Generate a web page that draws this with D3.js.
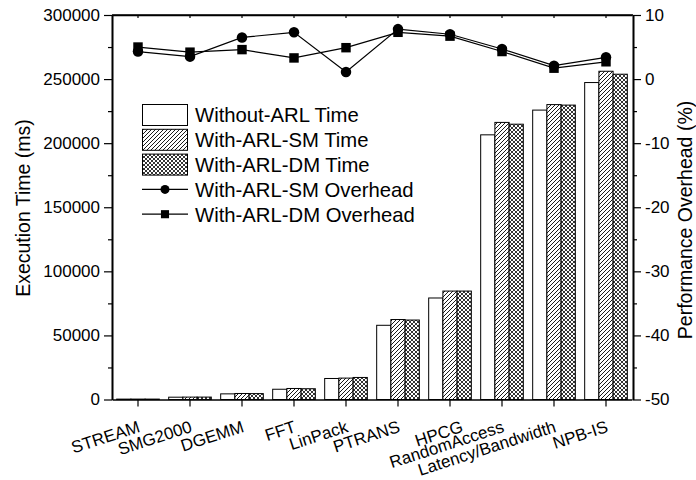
<!DOCTYPE html>
<html>
<head>
<meta charset="utf-8">
<script src="https://cdn.jsdelivr.net/npm/d3@7"></script>
<style>
  body { margin: 0; background: #fff; }
  text { font-family: "Liberation Sans", Arial, sans-serif; fill: #000; }
</style>
</head>
<body>
<div id="chart"></div>
<script>
// benchmark names
var categories = ["STREAM", "SMG2000", "DGEMM", "FFT", "LinPack", "PTRANS", "HPCG",
    "RandomAccess", "Latency/Bandwidth", "NPB-IS"];

// execution time (ms)
var withoutArl = [300, 1800, 4400, 8000, 16400, 57900, 79200, 206500, 225800, 247300];
var withArlSM  = [320, 1870, 4690, 8600, 16700, 62400, 84600, 216200, 230100, 256100];
var withArlDM  = [320, 1880, 4600, 8400, 17200, 62000, 84600, 214800, 229700, 253800];

// performance overhead (%)
var overheadSM = [4.3, 3.5, 6.5, 7.3, 1.1, 7.8, 7.0, 4.7, 2.1, 3.4];
var overheadDM = [5.0, 4.2, 4.6, 3.3, 4.9, 7.3, 6.7, 4.3, 1.7, 2.7];

var leftTicks = [0, 50000, 100000, 150000, 200000, 250000, 300000];
var rightTicks = [-50, -40, -30, -20, -10, 0, 10];

var barSeries = [
    { name: "Without-ARL Time", values: withoutArl, fill: "#fff" },
    { name: "With-ARL-SM Time", values: withArlSM, fill: "url(#hatch)" },
    { name: "With-ARL-DM Time", values: withArlDM, fill: "url(#cross)" }
];
var lineSeries = [
    { name: "With-ARL-SM Overhead", values: overheadSM, marker: "circle" },
    { name: "With-ARL-DM Overhead", values: overheadDM, marker: "square" }
];

function drawChart() {
    var W = 696, H = 480;
    var plotLeft = 112, plotRight = 633, plotTop = 15, plotBottom = 399.5;
    var plain = function(d) { return String(d); };

    var svg = d3.select("#chart")
        .append("svg")
        .attr("width", W)
        .attr("height", H);

    var defs = svg.append("defs");
    var hatch = defs.append("pattern")
        .attr("id", "hatch")
        .attr("patternUnits", "userSpaceOnUse")
        .attr("width", 4).attr("height", 4);
    hatch.append("rect").attr("width", 4).attr("height", 4).attr("fill", "#fff");
    hatch.append("path")
        .attr("d", "M0,4L4,0M-1,1L1,-1M3,5L5,3")
        .attr("stroke", "#000").attr("stroke-width", 0.9);

    var cross = defs.append("pattern")
        .attr("id", "cross")
        .attr("patternUnits", "userSpaceOnUse")
        .attr("width", 4).attr("height", 4);
    cross.append("rect").attr("width", 4).attr("height", 4).attr("fill", "#fff");
    cross.append("path")
        .attr("d", "M0,4L4,0M-1,1L1,-1M3,5L5,3M0,0L4,4M-1,3L1,5M3,-1L5,1")
        .attr("stroke", "#000").attr("stroke-width", 0.8);

    var x = d3.scaleBand()
        .domain(categories)
        .range([plotLeft, plotRight - 1])
        .paddingInner(0.18)
        .paddingOuter(0.09);

    var xs = d3.scaleBand()
        .domain(d3.range(barSeries.length))
        .range([0, x.bandwidth()]);

    var y = d3.scaleLinear().domain([0, 300000]).range([plotBottom, plotTop]);
    var y2 = d3.scaleLinear().domain([-50, 10]).range([plotBottom, plotTop]);

    // bars
    barSeries.forEach(function(s, si) {
        svg.append("g").selectAll("rect")
            .data(s.values)
            .enter()
            .append("rect")
            .attr("x", function(d, i) { return x(categories[i]) + xs(si); })
            .attr("y", function(d) { return y(d); })
            .attr("width", xs.bandwidth())
            .attr("height", function(d) { return plotBottom - y(d); })
            .attr("fill", s.fill)
            .attr("stroke", "#000")
            .attr("stroke-width", 1);
    });

    // axes
    svg.append("g")
        .attr("transform", "translate(" + plotLeft + ",0)")
        .call(d3.axisLeft(y).tickValues(leftTicks).tickFormat(plain).tickSize(8).tickPadding(4).tickSizeOuter(0));
    svg.append("g")
        .attr("transform", "translate(" + plotLeft + ",0)")
        .call(d3.axisLeft(y).tickValues(d3.range(25000, 300000, 50000)).tickSize(4).tickFormat("").tickSizeOuter(0));

    svg.append("g")
        .attr("transform", "translate(" + plotRight + ",0)")
        .call(d3.axisRight(y2).tickValues(rightTicks).tickFormat(plain).tickSize(8).tickPadding(4).tickSizeOuter(0));
    svg.append("g")
        .attr("transform", "translate(" + plotRight + ",0)")
        .call(d3.axisRight(y2).tickValues([-45, -35, -25, -15, -5, 5]).tickSize(4).tickFormat("").tickSizeOuter(0));

    var xAxis = svg.append("g")
        .attr("transform", "translate(0," + plotBottom + ")")
        .call(d3.axisBottom(x).tickSize(7).tickSizeOuter(0));

    xAxis.selectAll("text")
        .attr("text-anchor", "end")
        .attr("x", 0).attr("y", 0).attr("dy", 0)
        .attr("transform", function(d) {
            var dx = d === "HPCG" ? 14 : 3;
            return "translate(" + dx + ",32) rotate(-18)";
        });

    svg.append("g")
        .attr("transform", "translate(0," + plotTop + ")")
        .call(d3.axisBottom(x).tickSize(3).tickFormat("").tickSizeOuter(0));

    svg.selectAll(".domain")
        .attr("stroke", "#000")
        .attr("stroke-width", 1.6);
    svg.selectAll(".tick line").attr("stroke", "#000").attr("stroke-width", 1.2);
    svg.selectAll(".tick text")
        .style("font-size", "17px")
        .style("font-family", "'Liberation Sans', Arial, sans-serif")
        .attr("fill", "#000");

    // top border
    svg.append("line")
        .attr("x1", plotLeft).attr("x2", plotRight)
        .attr("y1", plotTop).attr("y2", plotTop)
        .attr("stroke", "#000").attr("stroke-width", 1.6);

    // overhead lines
    function drawMarker(g, type, cx, cy, size) {
        if (type === "circle") {
            g.append("circle").attr("cx", cx).attr("cy", cy).attr("r", size / 2).attr("fill", "#000");
        } else {
            g.append("rect")
                .attr("x", cx - size * 0.45).attr("y", cy - size * 0.45)
                .attr("width", size * 0.9).attr("height", size * 0.9)
                .attr("fill", "#000");
        }
    }

    var line = d3.line()
        .x(function(d, i) { return x(categories[i]) + x.bandwidth() / 2; })
        .y(function(d) { return y2(d); });

    lineSeries.forEach(function(s) {
        svg.append("path")
            .datum(s.values)
            .attr("fill", "none")
            .attr("stroke", "#000")
            .attr("stroke-width", 1.2)
            .attr("d", line);
    });
    lineSeries.forEach(function(s) {
        var g = svg.append("g");
        s.values.forEach(function(v, i) {
            drawMarker(g, s.marker, x(categories[i]) + x.bandwidth() / 2, y2(v), 10.5);
        });
    });

    // legend
    var legend = svg.append("g").attr("transform", "translate(142,115)");
    var rowH = 24.8;
    barSeries.forEach(function(s, i) {
        legend.append("rect")
            .attr("x", 0.5).attr("y", i * rowH - 10.5)
            .attr("width", 45).attr("height", 21)
            .attr("fill", s.fill)
            .attr("stroke", "#000").attr("stroke-width", 1);
    });
    lineSeries.forEach(function(s, j) {
        var cy = (j + 3) * rowH;
        legend.append("line")
            .attr("x1", 0).attr("x2", 46)
            .attr("y1", cy).attr("y2", cy)
            .attr("stroke", "#000").attr("stroke-width", 1.2);
        drawMarker(legend, s.marker, 23, cy, 9);
    });
    barSeries.concat(lineSeries).forEach(function(s, i) {
        legend.append("text")
            .attr("x", 53)
            .attr("y", i * rowH)
            .attr("dy", "0.36em")
            .style("font-size", "20.3px")
            .text(s.name);
    });

    // axis titles
    svg.append("text")
        .attr("transform", "translate(30,208) rotate(-90)")
        .attr("text-anchor", "middle")
        .style("font-size", "19.5px")
        .text("Execution Time (ms)");

    svg.append("text")
        .attr("transform", "translate(692,220) rotate(-90)")
        .attr("text-anchor", "middle")
        .style("font-size", "19.5px")
        .text("Performance Overhead (%)");
}

drawChart();
</script>
</body>
</html>
